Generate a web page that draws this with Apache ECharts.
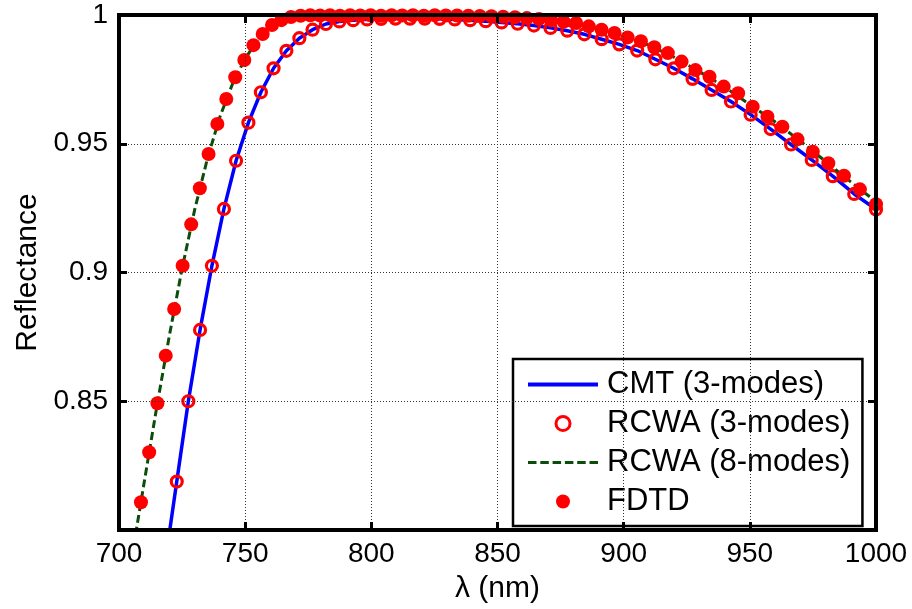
<!DOCTYPE html>
<html>
<head>
<meta charset="utf-8">
<script src="https://cdn.jsdelivr.net/npm/echarts@6/dist/echarts.min.js"></script>
<style>
html,body{margin:0;padding:0;background:#fff;}
#chart{width:912px;height:609px;}
</style>
</head>
<body>
<div id="chart"></div>
<script>
// ---- data ----
const xTicks = [700, 750, 800, 850, 900, 950, 1000];
const yTicks = [0.85, 0.9, 0.95, 1];

// CMT (3-modes), solid blue line
const cmtLambda = [718, 722.89, 727.48, 732.12, 736.82, 741.58, 746.39, 751.28, 756.23, 761.25, 766.33, 771.48, 776.70, 782.00, 787.36, 792.80, 798.31, 803.90, 809.57, 815.32, 821.15, 827.07, 833.07, 839.16, 845.34, 851.61, 857.98, 864.44, 871.00, 877.66, 884.42, 891.29, 898.27, 905.35, 912.55, 919.86, 927.29, 934.85, 942.52, 950.32, 958.26, 966.33, 974.53, 982.87, 991.36, 1000];
const cmtR = [0.7855, 0.8188, 0.8500, 0.8777, 0.9026, 0.9247, 0.9434, 0.9582, 0.9700, 0.9793, 0.9861, 0.9910, 0.9943, 0.9965, 0.9975, 0.9980, 0.9983, 0.9985, 0.9986, 0.9986, 0.9986, 0.9985, 0.9983, 0.9980, 0.9976, 0.9971, 0.9966, 0.9959, 0.9950, 0.9939, 0.9925, 0.9906, 0.9886, 0.9862, 0.9828, 0.9793, 0.9752, 0.9709, 0.9664, 0.9613, 0.9557, 0.9497, 0.9437, 0.9374, 0.9305, 0.9245];

// RCWA (3-modes), red open circles
const rcwa3Lambda = [722.89, 727.48, 732.12, 736.82, 741.58, 746.39, 751.28, 756.23, 761.25, 766.33, 771.48, 776.70, 782.00, 787.36, 792.80, 798.31, 803.90, 809.57, 815.32, 821.15, 827.07, 833.07, 839.16, 845.34, 851.61, 857.98, 864.44, 871.00, 877.66, 884.42, 891.29, 898.27, 905.35, 912.55, 919.86, 927.29, 934.85, 942.52, 950.32, 958.26, 966.33, 974.53, 982.87, 991.36, 1000];
const rcwa3R = [0.8188, 0.8500, 0.8777, 0.9026, 0.9247, 0.9434, 0.9582, 0.9700, 0.9793, 0.9861, 0.9910, 0.9943, 0.9965, 0.9975, 0.9980, 0.9983, 0.9985, 0.9986, 0.9986, 0.9986, 0.9985, 0.9983, 0.9980, 0.9976, 0.9971, 0.9966, 0.9959, 0.9950, 0.9939, 0.9925, 0.9906, 0.9886, 0.9862, 0.9828, 0.9793, 0.9752, 0.9709, 0.9664, 0.9613, 0.9557, 0.9497, 0.9437, 0.9374, 0.9305, 0.9245];

// RCWA (8-modes), dark green dashed line
const rcwa8Lambda = [705, 710, 715, 720, 725, 730, 735, 740, 745, 750, 755, 760, 765, 770, 780, 800, 820, 840, 850, 860, 870, 880, 890, 900, 910, 920, 930, 940, 950, 960, 970, 980, 990, 1000];
const rcwa8R = [0.7890, 0.8186, 0.8480, 0.8757, 0.9015, 0.9244, 0.9441, 0.9605, 0.9733, 0.9831, 0.9903, 0.9955, 0.9982, 0.9994, 0.9998, 0.9999, 0.9999, 0.9997, 0.9994, 0.9989, 0.9981, 0.9968, 0.9947, 0.9919, 0.9883, 0.9836, 0.9780, 0.9721, 0.9652, 0.9585, 0.9510, 0.9432, 0.9352, 0.9275];

// FDTD, red filled markers
const fdtdLambda = [708.71, 711.95, 715.22, 718.52, 721.86, 725.22, 728.61, 732.04, 735.49, 738.98, 742.51, 746.06, 749.66, 753.28, 756.95, 760.64, 764.38, 768.15, 771.96, 775.80, 779.69, 783.61, 787.57, 791.58, 795.62, 799.71, 803.84, 808.01, 812.22, 816.48, 820.79, 825.13, 829.53, 833.97, 838.46, 843.00, 847.59, 852.23, 856.92, 861.65, 866.45, 871.30, 876.21, 881.16, 886.18, 891.25, 896.38, 901.57, 906.82, 912.13, 917.51, 922.95, 928.45, 934.02, 939.65, 945.36, 951.13, 956.98, 962.90, 968.89, 974.96, 981.10, 987.32, 993.62, 1000];
const fdtdR = [0.8108, 0.8302, 0.8492, 0.8677, 0.8858, 0.9026, 0.9187, 0.9327, 0.9460, 0.9577, 0.9674, 0.9758, 0.9825, 0.9883, 0.9926, 0.9961, 0.9980, 0.9992, 0.9997, 0.9999, 0.9998, 0.9999, 0.9997, 0.9999, 0.9998, 0.9999, 0.9997, 0.9999, 0.9998, 0.9999, 0.9997, 0.9999, 0.9998, 0.9998, 0.9997, 0.9996, 0.9995, 0.9993, 0.9991, 0.9988, 0.9984, 0.9979, 0.9974, 0.9969, 0.9956, 0.9943, 0.9930, 0.9913, 0.9898, 0.9875, 0.9852, 0.9819, 0.9786, 0.9760, 0.9722, 0.9696, 0.9644, 0.9605, 0.9566, 0.9517, 0.9469, 0.9424, 0.9376, 0.9323, 0.9265];

const seriesNames = ['CMT (3-modes)', 'RCWA (3-modes)', 'RCWA (8-modes)', 'FDTD'];

// ---- chart ----
const zip = (xs, ys) => xs.map((x, i) => [x, ys[i]]);
const FONT = 'Liberation Sans, Arial, sans-serif';
const chart = echarts.init(document.getElementById('chart'), null, {renderer: 'canvas'});

const lineAxis = () => ({show: true, onZero: false, lineStyle: {color: '#000', width: 4}});
const tickAxis = () => ({show: true, inside: true, length: 8, lineStyle: {color: '#000', width: 3}});
const grid = () => ({show: true, lineStyle: {color: '#333', width: 1, type: [1, 2]}});

const solidIcon = 'path://M0,0 L70,0 L70,4 L0,4 Z';
const dashIcon = 'path://M0,0 L8.5,0 L8.5,3 L0,3 Z M12.3,0 L20.8,0 L20.8,3 L12.3,3 Z M24.6,0 L33.1,0 L33.1,3 L24.6,3 Z M36.9,0 L45.4,0 L45.4,3 L36.9,3 Z M49.2,0 L57.7,0 L57.7,3 L49.2,3 Z M61.5,0 L70,0 L70,3 L61.5,3 Z';

const option = {
  animation: false,
  backgroundColor: '#fff',
  grid: {left: 119, right: 36, top: 15, bottom: 78, containLabel: false,
         show: true, borderColor: '#000', borderWidth: 4, backgroundColor: 'rgba(0,0,0,0)'},
  xAxis: [
    {
      type: 'value', min: xTicks[0], max: xTicks[xTicks.length - 1], interval: 50,
      name: 'λ (nm)', nameLocation: 'middle', nameGap: 44,
      nameTextStyle: {fontFamily: FONT, fontSize: 30, color: '#000'},
      axisLine: lineAxis(), axisTick: tickAxis(),
      axisLabel: {fontFamily: FONT, fontSize: 28, color: '#000', margin: 10, formatter: v => String(v)},
      splitLine: grid(), z: 10
    },
    {
      type: 'value', position: 'top', min: xTicks[0], max: xTicks[xTicks.length - 1], interval: 50,
      axisLine: lineAxis(), axisTick: tickAxis(),
      axisLabel: {show: false}, splitLine: {show: false}, z: 10
    }
  ],
  yAxis: [
    {
      type: 'value', min: 0.8, max: yTicks[yTicks.length - 1], interval: 0.05,
      name: 'Reflectance', nameLocation: 'middle', nameGap: 76,
      nameTextStyle: {fontFamily: FONT, fontSize: 30, color: '#000'},
      axisLine: lineAxis(), axisTick: tickAxis(),
      axisLabel: {
        fontFamily: FONT, fontSize: 28, color: '#000', margin: 11,
        formatter: v => {
          const t = yTicks.find(y => Math.abs(y - v) < 1e-9);
          return t === undefined ? '' : String(t);
        }
      },
      splitLine: grid(), z: 10
    },
    {
      type: 'value', position: 'right', min: 0.8, max: 1, interval: 0.05,
      axisLine: lineAxis(), axisTick: tickAxis(),
      axisLabel: {show: false}, splitLine: {show: false}, z: 10
    }
  ],
  legend: {
    orient: 'vertical', left: 513, top: 359,
    padding: [10, 12, 9, 15],
    itemWidth: 70, itemHeight: 14, itemGap: 8,
    backgroundColor: '#fff', borderColor: '#000', borderWidth: 2.5, borderRadius: 0,
    textStyle: {fontFamily: FONT, fontSize: 31, color: '#000', padding: [0, 0, 0, 4]},
    data: [
      {name: seriesNames[0], icon: solidIcon, itemStyle: {color: '#0000ff'}},
      {name: seriesNames[1], icon: 'circle', itemStyle: {color: 'rgba(0,0,0,0)', borderColor: '#ff0000', borderWidth: 3}},
      {name: seriesNames[2], icon: dashIcon, itemStyle: {color: '#0b4d0b'}},
      {name: seriesNames[3], icon: 'circle', itemStyle: {color: '#ff0000'}}
    ]
  },
  series: [
    {
      name: seriesNames[0], type: 'line', data: zip(cmtLambda, cmtR),
      symbol: 'none', lineStyle: {color: '#0000ff', width: 3.5}, itemStyle: {color: '#0000ff'},
      z: 2
    },
    {
      name: seriesNames[1], type: 'scatter', data: zip(rcwa3Lambda, rcwa3R),
      symbol: 'circle', symbolSize: 11, clip: false,
      itemStyle: {color: 'rgba(0,0,0,0)', borderColor: '#ff0000', borderWidth: 3.2, opacity: 1},
      z: 3
    },
    {
      name: seriesNames[2], type: 'line', data: zip(rcwa8Lambda, rcwa8R),
      symbol: 'none', lineStyle: {color: '#0b4d0b', width: 3, type: [8, 4]}, itemStyle: {color: '#0b4d0b'},
      z: 4
    },
    {
      name: seriesNames[3], type: 'scatter', data: zip(fdtdLambda, fdtdR),
      symbol: 'circle', symbolSize: 14, clip: false,
      itemStyle: {color: '#ff0000', opacity: 1},
      z: 5
    }
  ]
};
chart.setOption(option);
</script>
</body>
</html>
